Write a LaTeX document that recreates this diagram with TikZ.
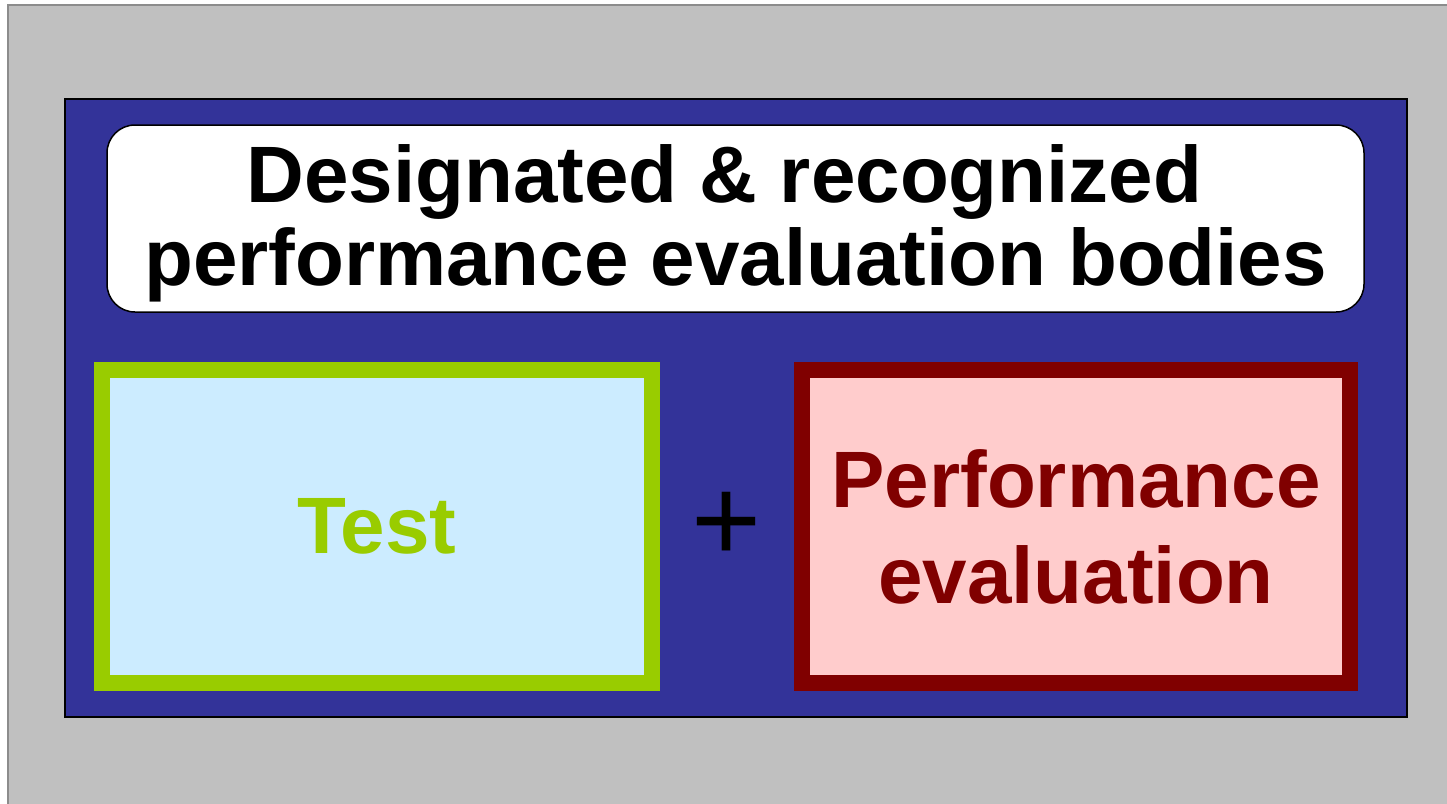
\documentclass[tikz,border=0pt]{standalone}
\usepackage{fontspec}
\setmainfont{Liberation Sans}
\usepackage{tikz}
\usetikzlibrary{positioning}
\definecolor{slideGray}{HTML}{C0C0C0}
\definecolor{frameGray}{HTML}{8C8C8C}
\definecolor{panelBlue}{HTML}{333399}
\definecolor{testGreen}{HTML}{99CC00}
\definecolor{testFill}{HTML}{CCECFF}
\definecolor{evalRed}{HTML}{800000}
\definecolor{evalFill}{HTML}{FFCCCC}
\tikzset{
  titleBox/.style={draw=black,line width=1.5pt,fill=white,rounded corners=28pt,
    minimum width=1257pt,minimum height=187pt,inner sep=0pt},
  titleText/.style={inner sep=0pt,align=center,
    font=\bfseries\fontsize{80}{83}\selectfont},
  bodyBox/.style={line width=16pt,minimum width=550pt,minimum height=313pt,
    inner sep=0pt,align=center,font=\bfseries\fontsize{80}{96}\selectfont},
  testBox/.style={bodyBox,draw=testGreen,fill=testFill,text=testGreen},
  evalBox/.style={bodyBox,draw=evalRed,fill=evalFill,text=evalRed,minimum width=548pt}
}

\begin{document}
\begin{tikzpicture}[x=1pt,y=-1pt]
      \useasboundingbox (0,0) rectangle (1447,803);
      \fill[white] (0,0) rectangle (1447,803);
      \draw[frameGray,line width=1.5pt,fill=slideGray] (8,5) rectangle (1460,815);
      % blue panel
      \node[draw=black,line width=1.5pt,fill=panelBlue,minimum width=1342pt,
            minimum height=618pt,inner sep=0pt] (panel) at (736,408) {};
      \node[titleBox] (title) at (735.5,218.5) {};
      \node[titleText,yshift=-5pt] (heading) at (title.center)
            {Designated \& recognized\kern22pt\\performance evaluation bodies};
      \node[testBox] (test) at (377,526.5) {Test};
      \node[evalBox] (eval) at (1076,526.5) {Performance\\evaluation};
      \node[font=\fontsize{120}{120}\selectfont,inner sep=0pt] (plus) at (727,527) {+};
\end{tikzpicture}
\end{document}
